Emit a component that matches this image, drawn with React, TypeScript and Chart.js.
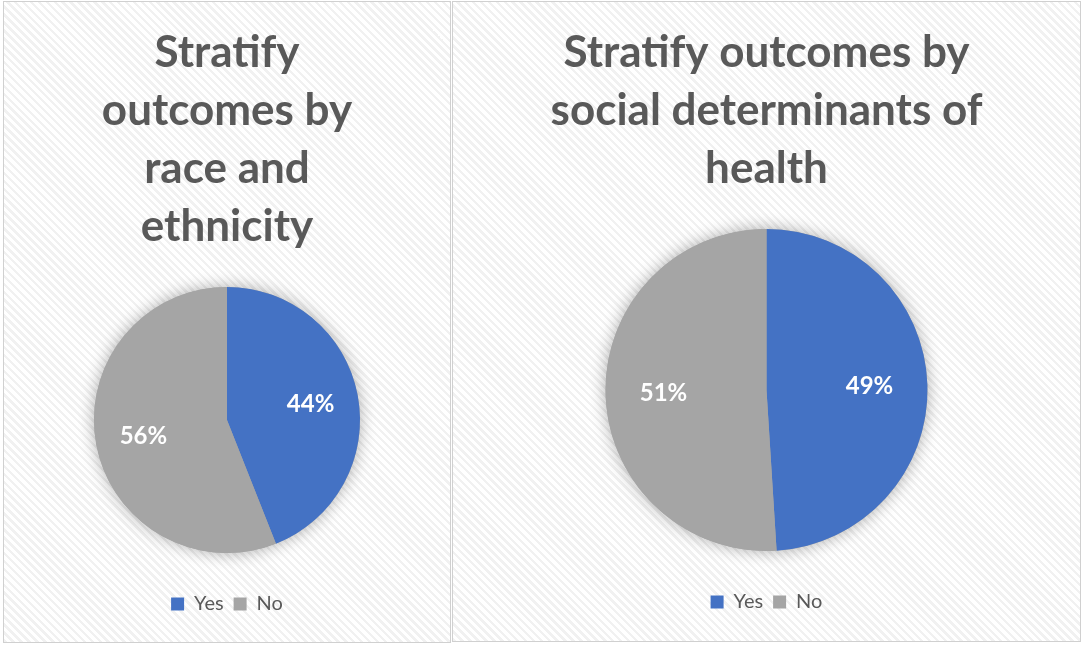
import React, { useEffect, useRef } from "react";
import { Chart, registerables } from "chart.js";

Chart.register(...registerables);

// Answer categories shared by both pies
const categories = ["Yes", "No"];

// Share of respondents (%) for each question
const raceValues = [44, 56];
const sdohValues = [49, 51];

// Chart titles, one entry per line
const raceTitle = ["Stratify", "outcomes by", "race and", "ethnicity"];
const sdohTitle = ["Stratify outcomes by", "social determinants of", "health"];

const sliceColors = ["#4472C4", "#A5A5A5"];
const textGray = "#595959";
const fontFamily = "Lato, 'Open Sans', sans-serif";

// Soft drop shadow under the whole pie (drawn once, below the slices)
const pieShadow = {
  id: "pieShadow",
  beforeDatasetsDraw(chart: any) {
    const arc = chart.getDatasetMeta(0).data[0];
    if (!arc) return;
    const { x, y, outerRadius } = arc.getProps(["x", "y", "outerRadius"], true);
    const ctx = chart.ctx;
    ctx.save();
    ctx.shadowColor = "rgba(0,0,0,0.32)";
    ctx.shadowBlur = 16;
    ctx.fillStyle = "#a5a5a5";
    ctx.beginPath();
    ctx.arc(x, y, outerRadius, 0, Math.PI * 2);
    ctx.fill();
    ctx.restore();
  },
};

// Percentage labels inside each slice
const sliceLabels = {
  id: "sliceLabels",
  afterDatasetsDraw(chart: any) {
    const ctx = chart.ctx;
    const values = chart.data.datasets[0].data as number[];
    chart.getDatasetMeta(0).data.forEach((arc: any, i: number) => {
      const { x, y, startAngle, endAngle, outerRadius } = arc.getProps(
        ["x", "y", "startAngle", "endAngle", "outerRadius"],
        true
      );
      const mid = (startAngle + endAngle) / 2;
      const r = outerRadius * 0.64;
      ctx.save();
      ctx.fillStyle = "#ffffff";
      ctx.font = `bold 24px ${fontFamily}`;
      ctx.textAlign = "center";
      ctx.textBaseline = "middle";
      ctx.fillText(`${values[i]}%`, x + Math.cos(mid) * r, y + Math.sin(mid) * r);
      ctx.restore();
    });
  },
};

type PieProps = {
  title: string[];
  values: number[];
  width: number;
  height: number;
  radius: number;
  bottomPad: number;
};

function PieChart({ title, values, width, height, radius, bottomPad }: PieProps) {
  const ref = useRef<HTMLCanvasElement>(null);

  useEffect(() => {
    if (!ref.current) return;
    const chart = new Chart(ref.current, {
      type: "pie",
      data: {
        labels: categories,
        datasets: [
          {
            data: values,
            backgroundColor: sliceColors,
            borderWidth: 0,
            hoverOffset: 0,
          },
        ],
      },
      options: {
        animation: false,
        responsive: false,
        devicePixelRatio: 1,
        events: [],
        radius,
        layout: { padding: { top: 0, bottom: bottomPad, left: 0, right: 0 } },
        plugins: {
          title: {
            display: true,
            text: title,
            color: textGray,
            font: { family: fontFamily, size: 44, weight: "bold", lineHeight: 1.318 },
            padding: { top: 22, bottom: 0 },
          },
          legend: {
            position: "bottom",
            labels: {
              boxWidth: 13,
              boxHeight: 13,
              padding: 10,
              color: textGray,
              font: { family: fontFamily, size: 20 },
            },
          },
          tooltip: { enabled: false },
        },
      },
      plugins: [pieShadow, sliceLabels],
    });
    return () => chart.destroy();
  }, [title, values, width, height, radius, bottomPad]);

  return <canvas ref={ref} width={width} height={height} style={{ display: "block" }} />;
}

const panelStyle = (left: number, width: number, height: number): React.CSSProperties => ({
  position: "absolute",
  left,
  top: 1,
  width,
  height,
  boxSizing: "border-box",
  border: "1px solid #d0d0d0",
  background:
    "repeating-linear-gradient(45deg, #f1f1f1 0px, #f1f1f1 2.5px, #ffffff 2.5px, #ffffff 5.6px)",
});

export default function App() {
  return (
    <div style={{ position: "absolute", left: 0, top: 0, width: 1081, height: 645, background: "#fff" }}>
      <div style={panelStyle(3, 448, 642)}>
        <PieChart title={raceTitle} values={raceValues} width={446} height={640} radius={133} bottomPad={18} />
      </div>
      <div style={panelStyle(452, 629, 641)}>
        <PieChart title={sdohTitle} values={sdohValues} width={627} height={639} radius={161} bottomPad={19} />
      </div>
    </div>
  );
}
